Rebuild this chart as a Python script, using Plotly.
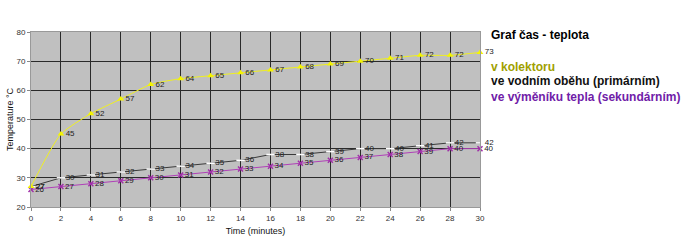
import plotly.graph_objects as go

time_min = [0, 2, 4, 6, 8, 10, 12, 14, 16, 18, 20, 22, 24, 26, 28, 30]
kolektor = [27, 45, 52, 57, 62, 64, 65, 66, 67, 68, 69, 70, 71, 72, 72, 73]
primarni = [27, 30, 31, 32, 33, 34, 35, 36, 38, 38, 39, 40, 40, 41, 42, 42]
sekundarni = [26, 27, 28, 29, 30, 31, 32, 33, 34, 35, 36, 37, 38, 39, 40, 40]

title_text = "Graf čas - teplota"
legend_texts = ["v kolektoru", "ve vodním oběhu (primárním)", "ve výměníku tepla (sekundárním)"]
legend_colors = ["#a0a000", "#111111", "#7020a8"]

FONT = "Liberation Sans"
fig = go.Figure()

fig.add_trace(go.Scatter(
    x=time_min, y=primarni, mode="lines+markers+text",
    line=dict(color="#3a3a3a", width=1),
    marker=dict(symbol="line-ew", size=6, color="#ffffff", line=dict(color="#ffffff", width=1.5)),
    text=[str(v) for v in primarni], textposition="middle right",
    textfont=dict(size=8, color="#222222", family=FONT),
    cliponaxis=False, showlegend=False))

fig.add_trace(go.Scatter(
    x=time_min, y=sekundarni, mode="lines+markers+text",
    line=dict(color="#b040b8", width=1),
    marker=dict(symbol="x-thin", size=5, color="#a030a8", line=dict(color="#a030a8", width=1.5)),
    text=[str(v) for v in sekundarni], textposition="middle right",
    textfont=dict(size=8, color="#222222", family=FONT),
    cliponaxis=False, showlegend=False))

fig.add_trace(go.Scatter(
    x=time_min, y=kolektor, mode="lines+markers+text",
    line=dict(color="#f0f020", width=1, shape="spline", smoothing=0.6),
    marker=dict(symbol="triangle-up", size=6, color="#f5f500"),
    text=[str(v) for v in kolektor], textposition="middle right",
    textfont=dict(size=8, color="#222222", family=FONT),
    cliponaxis=False, showlegend=False))

annotations = [dict(text="<b>%s</b>" % title_text, xref="paper", yref="paper", x=1.02, y=0.983,
                    xanchor="left", yanchor="middle", showarrow=False,
                    font=dict(size=12, color="#000000", family=FONT))]
ys = [0.80, 0.72, 0.63]
for t, c, yv in zip(legend_texts, legend_colors, ys):
    annotations.append(dict(text="<b>%s</b>" % t, xref="paper", yref="paper", x=1.02, y=yv,
                            xanchor="left", yanchor="middle", showarrow=False,
                            font=dict(size=12, color=c, family=FONT)))

fig.update_layout(
    width=693, height=240,
    margin=dict(l=31, r=213, t=32, b=33),
    paper_bgcolor="#ffffff", plot_bgcolor="#c0c0c0",
    font=dict(family=FONT, size=8, color="#222222"),
    annotations=annotations,
)
fig.update_xaxes(range=[0, 30], tickvals=list(range(0, 31, 2)), showgrid=True,
                 gridcolor="#2a2a2a", gridwidth=1, zeroline=False, automargin=False,
                 ticks="outside", ticklen=3, tickcolor="#888888",
                 showline=True, linecolor="#999999", mirror=True,
                 tickfont=dict(size=8, color="#333333"),
                 title=dict(text="Time (minutes)", font=dict(size=9, color="#111111"), standoff=6))
fig.update_yaxes(range=[20, 80], tickvals=list(range(20, 81, 10)), showgrid=True,
                 gridcolor="#2a2a2a", gridwidth=1, zeroline=False, automargin=False,
                 ticks="outside", ticklen=3, tickcolor="#888888",
                 showline=True, linecolor="#999999", mirror=True,
                 tickfont=dict(size=8, color="#333333"),
                 title=dict(text="Temperature °C", font=dict(size=9, color="#111111"), standoff=1))

fig.write_html("out.html")
